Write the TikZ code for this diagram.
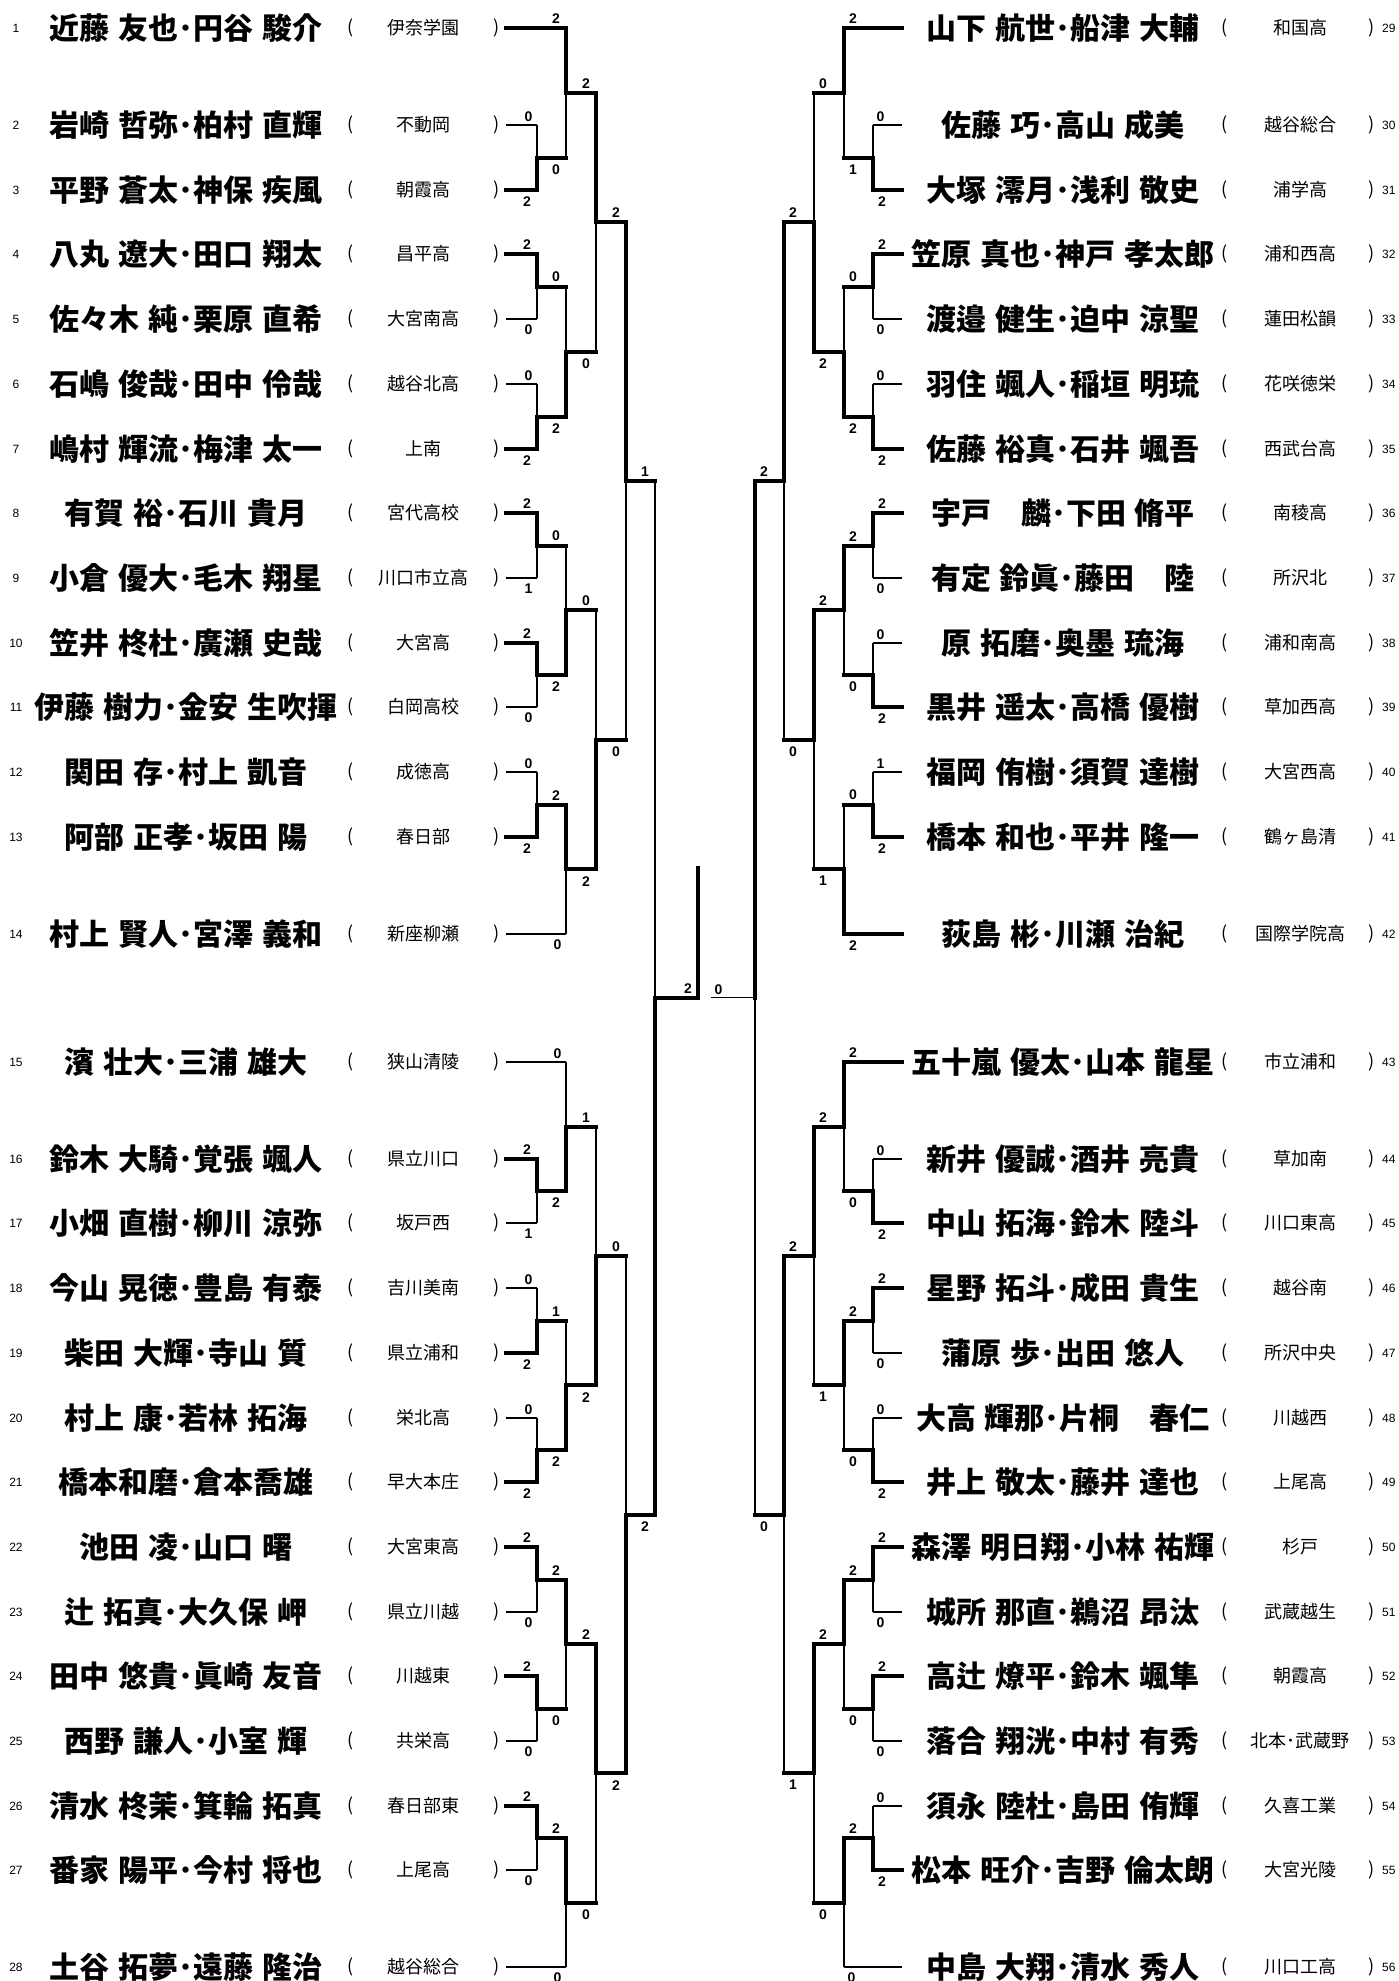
\documentclass[tikz,border=0pt]{standalone}
\usepackage{fontspec}
\newfontfamily\jpfont{Noto Sans CJK JP}[WordSpace=1.3]
\newfontfamily\numfont{Liberation Sans}

\tikzset{
  won/.style={line width=4pt, line cap=rect},
  lost/.style={line width=1.3pt},
  who/.style={font={\jpfont\bfseries\fontsize{30}{32}\selectfont}, inner sep=0pt},
  school/.style={font={\jpfont\fontsize{18}{20}\selectfont}, inner sep=0pt},
  paren/.style={font={\jpfont\fontsize{18}{20}\selectfont}, inner sep=0pt},
  num/.style={font={\numfont\fontsize{12}{14}\selectfont}, inner sep=0pt},
  score/.style={font={\numfont\bfseries\fontsize{14}{16}\selectfont}, inner sep=0pt},
}

% one bout: name, column, top entry, bottom entry, top score, bottom score, winner (t/b), loser line
\newcommand{\bout}[8]{%
  \path (#3 -| #2) -- (#4 -| #2) coordinate[pos=.5] (#1);
  \if#7t
    \draw[won] (#3) -- (#3 -| #2) node[sup] {#5};
    \draw[#8] (#4) -- (#4 -| #2) node[sdn] {#6};
    \draw[won] (#3 -| #2) -- (#1);
    \draw[lost] (#1) -- (#4 -| #2);
  \else
    \draw[#8] (#3) -- (#3 -| #2) node[sup] {#5};
    \draw[won] (#4) -- (#4 -| #2) node[sdn] {#6};
    \draw[lost] (#3 -| #2) -- (#1);
    \draw[won] (#1) -- (#4 -| #2);
  \fi}

\begin{document}
\begin{tikzpicture}[x=1pt, y=-1pt]
  \useasboundingbox (0,0) rectangle (1398,1981);

  % bracket columns
  \coordinate (c1) at (537,0);
  \coordinate (c2) at (566,0);
  \coordinate (c3) at (596,0);
  \coordinate (c4) at (626,0);
  \coordinate (c5) at (655,0);
  \coordinate (d1) at (873,0);
  \coordinate (d2) at (844,0);
  \coordinate (d3) at (814,0);
  \coordinate (d4) at (784,0);
  \coordinate (d5) at (755,0);

  % left entries
  \foreach \i/\y/\who/\from in {
    1/28/{近藤 友也･円谷 駿介}/伊奈学園,
    2/125/{岩崎 哲弥･柏村 直輝}/不動岡,
    3/190/{平野 蒼太･神保 疾風}/朝霞高,
    4/254/{八丸 遼大･田口 翔太}/昌平高,
    5/319/{佐々木 純･栗原 直希}/大宮南高,
    6/384/{石嶋 俊哉･田中 伶哉}/越谷北高,
    7/449/{嶋村 輝流･梅津 太一}/上南,
    8/513/{有賀 裕･石川 貴月}/宮代高校,
    9/578/{小倉 優大･毛木 翔星}/川口市立高,
    10/643/{笠井 柊杜･廣瀬 史哉}/大宮高,
    11/707/{伊藤 樹力･金安 生吹揮}/白岡高校,
    12/772/{関田 存･村上 凱音}/成徳高,
    13/837/{阿部 正孝･坂田 陽}/春日部,
    14/934/{村上 賢人･宮澤 義和}/新座柳瀬,
    15/1062/{濱 壮大･三浦 雄大}/狭山清陵,
    16/1159/{鈴木 大騎･覚張 颯人}/県立川口,
    17/1223/{小畑 直樹･柳川 涼弥}/坂戸西,
    18/1288/{今山 晃徳･豊島 有泰}/吉川美南,
    19/1353/{柴田 大輝･寺山 質}/県立浦和,
    20/1418/{村上 康･若林 拓海}/栄北高,
    21/1482/{橋本和磨･倉本喬雄}/早大本庄,
    22/1547/{池田 凌･山口 曙}/大宮東高,
    23/1612/{辻 拓真･大久保 岬}/県立川越,
    24/1676/{田中 悠貴･眞崎 友音}/川越東,
    25/1741/{西野 謙人･小室 輝}/共栄高,
    26/1806/{清水 柊茉･箕輪 拓真}/春日部東,
    27/1870/{番家 陽平･今村 将也}/上尾高,
    28/1967/{土谷 拓夢･遠藤 隆治}/越谷総合}{
    \node[num] (nL\i) at (16,\y) {\i};
    \node[who] (wL\i) at (186,\y) {\who};
    \node[paren] (oL\i) at (351,\y) {(};
    \node[school] (sL\i) at (423,\y) {\from};
    \node[paren] (xL\i) at (497,\y) {)};
    \coordinate (L\i) at (506,\y);
  }

  % right entries
  \foreach \i/\y/\who/\from in {
    29/28/{山下 航世･船津 大輔}/和国高,
    30/125/{佐藤 巧･高山 成美}/越谷総合,
    31/190/{大塚 澪月･浅利 敬史}/浦学高,
    32/254/{笠原 真也･神戸 孝太郎}/浦和西高,
    33/319/{渡邉 健生･迫中 涼聖}/蓮田松韻,
    34/384/{羽住 颯人･稲垣 明琉}/花咲徳栄,
    35/449/{佐藤 裕真･石井 颯吾}/西武台高,
    36/513/{宇戸　麟･下田 脩平}/南稜高,
    37/578/{有定 鈴眞･藤田　陸}/所沢北,
    38/643/{原 拓磨･奥墨 琉海}/浦和南高,
    39/707/{黒井 遥太･高橋 優樹}/草加西高,
    40/772/{福岡 侑樹･須賀 達樹}/大宮西高,
    41/837/{橋本 和也･平井 隆一}/鶴ヶ島清,
    42/934/{荻島 彬･川瀬 治紀}/国際学院高,
    43/1062/{五十嵐 優太･山本 龍星}/市立浦和,
    44/1159/{新井 優誠･酒井 亮貴}/草加南,
    45/1223/{中山 拓海･鈴木 陸斗}/川口東高,
    46/1288/{星野 拓斗･成田 貴生}/越谷南,
    47/1353/{蒲原 歩･出田 悠人}/所沢中央,
    48/1418/{大高 輝那･片桐　春仁}/川越西,
    49/1482/{井上 敬太･藤井 達也}/上尾高,
    50/1547/{森澤 明日翔･小林 祐輝}/杉戸,
    51/1612/{城所 那直･鵜沼 昂汰}/武蔵越生,
    52/1676/{高辻 燎平･鈴木 颯隼}/朝霞高,
    53/1741/{落合 翔洸･中村 有秀}/北本･武蔵野,
    54/1806/{須永 陸杜･島田 侑輝}/久喜工業,
    55/1870/{松本 旺介･吉野 倫太朗}/大宮光陵,
    56/1967/{中島 大翔･清水 秀人}/川口工高}{
    \node[who] (wR\i) at (1063,\y) {\who};
    \node[paren] (oR\i) at (1225,\y) {(};
    \node[school] (sR\i) at (1300,\y) {\from};
    \node[paren] (xR\i) at (1372,\y) {)};
    \node[num, anchor=west] (nR\i) at (1382,\y) {\i};
    \coordinate (R\i) at (902,\y);
  }

  % left bracket
  \begin{scope}[sup/.style={score, anchor=south east, xshift=-4pt, yshift=2.5pt},
                sdn/.style={score, anchor=north east, xshift=-4pt, yshift=-5pt}]
    % first round
    \bout{a1}{c1}{L2}{L3}{0}{2}{b}{lost}
    \bout{a2}{c1}{L4}{L5}{2}{0}{t}{lost}
    \bout{a3}{c1}{L6}{L7}{0}{2}{b}{lost}
    \bout{a4}{c1}{L8}{L9}{2}{1}{t}{lost}
    \bout{a5}{c1}{L10}{L11}{2}{0}{t}{lost}
    \bout{a6}{c1}{L12}{L13}{0}{2}{b}{lost}
    \bout{a7}{c1}{L16}{L17}{2}{1}{t}{lost}
    \bout{a8}{c1}{L18}{L19}{0}{2}{b}{lost}
    \bout{a9}{c1}{L20}{L21}{0}{2}{b}{lost}
    \bout{a10}{c1}{L22}{L23}{2}{0}{t}{lost}
    \bout{a11}{c1}{L24}{L25}{2}{0}{t}{lost}
    \bout{a12}{c1}{L26}{L27}{2}{0}{t}{lost}
    % second round
    \bout{b1}{c2}{L1}{a1}{2}{0}{t}{won}
    \bout{b2}{c2}{a2}{a3}{0}{2}{b}{won}
    \bout{b3}{c2}{a4}{a5}{0}{2}{b}{won}
    \bout{b4}{c2}{a6}{L14}{2}{0}{t}{lost}
    \bout{b5}{c2}{L15}{a7}{0}{2}{b}{lost}
    \bout{b6}{c2}{a8}{a9}{1}{2}{b}{won}
    \bout{b7}{c2}{a10}{a11}{2}{0}{t}{won}
    \bout{b8}{c2}{a12}{L28}{2}{0}{t}{lost}
    % third round
    \bout{e1}{c3}{b1}{b2}{2}{0}{t}{won}
    \bout{e2}{c3}{b3}{b4}{0}{2}{b}{won}
    \bout{e3}{c3}{b5}{b6}{1}{2}{b}{won}
    \bout{e4}{c3}{b7}{b8}{2}{0}{t}{won}
    % fourth round
    \bout{f1}{c4}{e1}{e2}{2}{0}{t}{won}
    \bout{f2}{c4}{e3}{e4}{0}{2}{b}{won}
    % semifinal
    \bout{g1}{c5}{f1}{f2}{1}{2}{b}{won}
    % final, left half
    \coordinate (fin) at (698,0);
    \coordinate (champ) at (698,868);
    \draw[won] (g1) -- (g1 -| fin) node[sup] {2};
    \draw[won] (g1 -| fin) -- (champ);
  \end{scope}

  % right bracket
  \begin{scope}[sup/.style={score, anchor=south west, xshift=3pt, yshift=2.5pt},
                sdn/.style={score, anchor=north west, xshift=3pt, yshift=-5pt}]
    % first round
    \bout{n1}{d1}{R30}{R31}{0}{2}{b}{lost}
    \bout{n2}{d1}{R32}{R33}{2}{0}{t}{lost}
    \bout{n3}{d1}{R34}{R35}{0}{2}{b}{lost}
    \bout{n4}{d1}{R36}{R37}{2}{0}{t}{lost}
    \bout{n5}{d1}{R38}{R39}{0}{2}{b}{lost}
    \bout{n6}{d1}{R40}{R41}{1}{2}{b}{lost}
    \bout{n7}{d1}{R44}{R45}{0}{2}{b}{lost}
    \bout{n8}{d1}{R46}{R47}{2}{0}{t}{lost}
    \bout{n9}{d1}{R48}{R49}{0}{2}{b}{lost}
    \bout{n10}{d1}{R50}{R51}{2}{0}{t}{lost}
    \bout{n11}{d1}{R52}{R53}{2}{0}{t}{lost}
    \bout{n12}{d1}{R54}{R55}{0}{2}{b}{lost}
    % second round
    \bout{p1}{d2}{R29}{n1}{2}{1}{t}{won}
    \bout{p2}{d2}{n2}{n3}{0}{2}{b}{won}
    \bout{p3}{d2}{n4}{n5}{2}{0}{t}{won}
    \bout{p4}{d2}{n6}{R42}{0}{2}{b}{won}
    \bout{p5}{d2}{R43}{n7}{2}{0}{t}{won}
    \bout{p6}{d2}{n8}{n9}{2}{0}{t}{won}
    \bout{p7}{d2}{n10}{n11}{2}{0}{t}{won}
    \bout{p8}{d2}{n12}{R56}{2}{0}{t}{lost}
    % third round
    \bout{q1}{d3}{p1}{p2}{0}{2}{b}{won}
    \bout{q2}{d3}{p3}{p4}{2}{1}{t}{won}
    \bout{q3}{d3}{p5}{p6}{2}{1}{t}{won}
    \bout{q4}{d3}{p7}{p8}{2}{0}{t}{won}
    % fourth round
    \bout{r1}{d4}{q1}{q2}{2}{0}{t}{won}
    \bout{r2}{d4}{q3}{q4}{2}{1}{t}{won}
    % semifinal
    \bout{s1}{d5}{r1}{r2}{2}{0}{t}{won}
    % final, right half
    \coordinate (fr) at (711,0);
    \draw[lost] (s1) -- (s1 -| fr) node[sup] {0};
  \end{scope}
\end{tikzpicture}
\end{document}
